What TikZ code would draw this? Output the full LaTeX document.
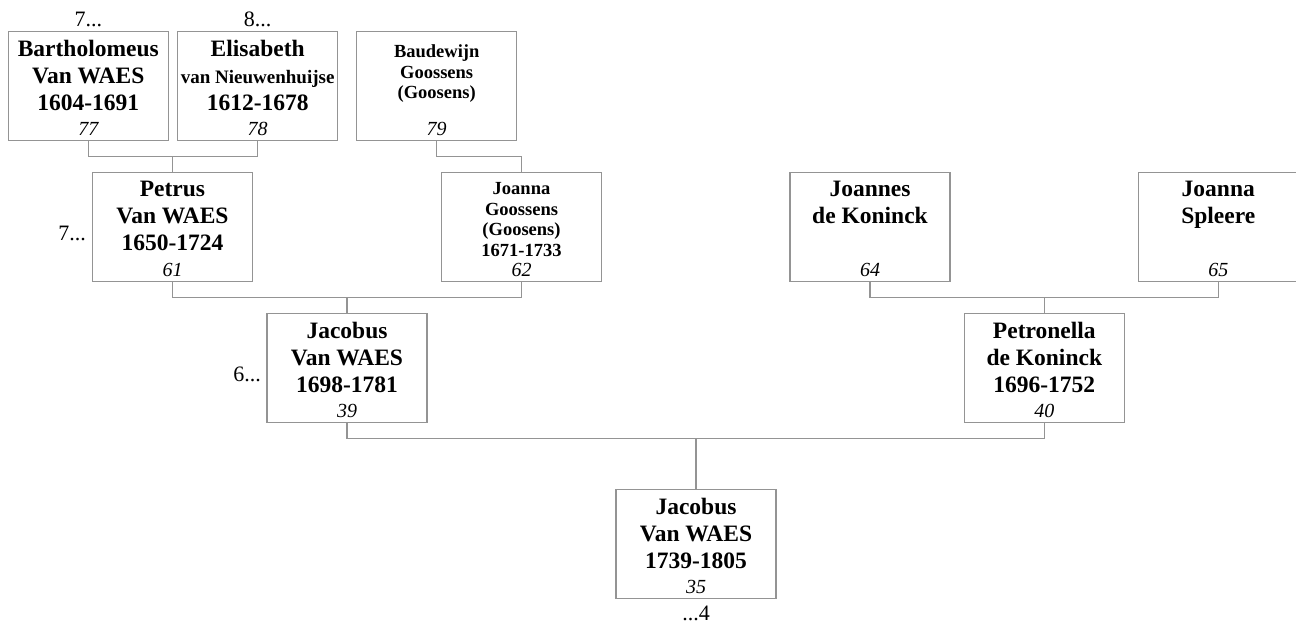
\documentclass[tikz,border=0pt]{standalone}
\usepackage{fontspec}
\setmainfont{Liberation Serif}
\tikzset{
  person/.style = {draw = black!42, line width = 1.2pt, anchor = north, minimum width = 160pt, minimum height = 108.5pt, inner sep = 0pt},
  pname/.style = {anchor = north, align = center, inner sep = 0pt, yshift = -9pt, font = \bfseries\fontsize{23.5}{27}\selectfont},
  pnamesmall/.style = {pname, yshift = -1.5pt, font = \bfseries\fontsize{18.5}{20.5}\selectfont},
  pnum/.style = {anchor = base, inner sep = 0pt, yshift = 5pt, font = \itshape\fontsize{20}{20}\selectfont},
  gen/.style = {inner sep = 0pt, font = \fontsize{22}{22}\selectfont},
  link/.style = {draw = black!42, line width = 1.2pt}
}

\begin{document}
\begin{tikzpicture}[x = 1pt, y = -1pt]
\useasboundingbox (0, 0) rectangle (1296, 625);

\node[person] (bart) at (88.3, 31) {};
\node[pname] (bartname) at (bart.north) {Bartholomeus\\Van WAES\\1604-1691};
\node[pnum] (bartnum) at (bart.south) {77};
\node[person] (elis) at (257.7, 31) {};
\node[pname] (elisname) at (elis.north) {Elisabeth\\{\fontsize{19}{27}\selectfont van Nieuwenhuijse}\\1612-1678};
\node[pnum] (elisnum) at (elis.south) {78};
\node[person] (baud) at (436.7, 31) {};
\node[pnamesmall, yshift = -3pt] (baudname) at (baud.north) {Baudewijn\\Goossens\\(Goosens)};
\node[pnum] (baudnum) at (baud.south) {79};

\node[person] (petrus) at (172.5, 172) {};
\node[pname] (petrusname) at (petrus.north) {Petrus\\Van WAES\\1650-1724};
\node[pnum] (petrusnum) at (petrus.south) {61};
\node[person] (joannag) at (521.5, 172) {};
\node[pnamesmall] (joannagname) at (joannag.north) {Joanna\\Goossens\\(Goosens)\\1671-1733};
\node[pnum] (joannagnum) at (joannag.south) {62};
\node[person] (joannes) at (870, 172) {};
\node[pname] (joannesname) at (joannes.north) {Joannes\\de Koninck};
\node[pnum] (joannesnum) at (joannes.south) {64};
\node[person] (spleere) at (1218.3, 172) {};
\node[pname] (spleerename) at (spleere.north) {Joanna\\Spleere};
\node[pnum] (spleerenum) at (spleere.south) {65};

\node[person] (jacobus) at (347, 313) {};
\node[pname] (jacobusname) at (jacobus.north) {Jacobus\\Van WAES\\1698-1781};
\node[pnum] (jacobusnum) at (jacobus.south) {39};
\node[person] (petronella) at (1044.3, 313) {};
\node[pname] (petronellaname) at (petronella.north) {Petronella\\de Koninck\\1696-1752};
\node[pnum] (petronellanum) at (petronella.south) {40};

\node[person] (jacobusjr) at (696, 489) {};
\node[pname] (jacobusjrname) at (jacobusjr.north) {Jacobus\\Van WAES\\1739-1805};
\node[pnum] (jacobusjrnum) at (jacobusjr.south) {35};

\node[gen, anchor = base] (genbart) at (88.3, 26) {7...};
\node[gen, anchor = base] (genelis) at (257.7, 26) {8...};
\node[gen, anchor = base east] (genpetrus) at (86, 240) {7...};
\node[gen, anchor = base east] (genjacobus) at (261, 381) {6...};
\node[gen, anchor = base] (genjacobusjr) at (696, 620) {...4};

\foreach \a/\b/\c in {bart/elis/petrus, petrus/joannag/jacobus, joannes/spleere/petronella, jacobus/petronella/jacobusjr}{
  \draw[link] (\a.south) -- ++(0, 16) coordinate (j\a) -| (\b.south);
  \draw[link] (\c.north) -- (\c.north |- j\a);
}
\draw[link] (baud.south) -- ++(0, 16) -| (joannag.north);

\end{tikzpicture}
\end{document}
